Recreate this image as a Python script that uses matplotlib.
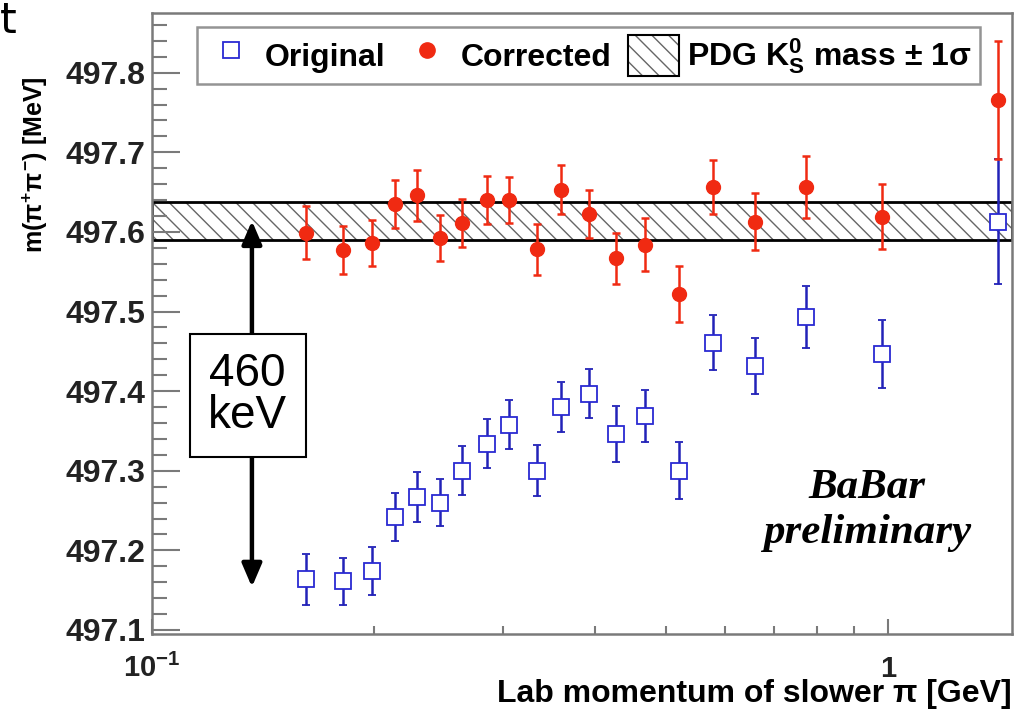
import matplotlib
matplotlib.use("Agg")
import matplotlib.pyplot as plt
from matplotlib.lines import Line2D
from matplotlib.patches import Patch
from matplotlib.ticker import FixedLocator, FixedFormatter, MultipleLocator, FormatStrFormatter

plt.rcParams['font.family'] = ['Liberation Sans', 'DejaVu Sans']
plt.rcParams['mathtext.fontset'] = 'custom'
plt.rcParams['mathtext.rm'] = 'Liberation Sans:bold'
plt.rcParams['mathtext.it'] = 'Liberation Sans:bold'
plt.rcParams['mathtext.bf'] = 'Liberation Sans:bold'
plt.rcParams['hatch.linewidth'] = 1.0

# Lab momentum of the slower pion [GeV] (bin centres)
momentum = [0.162, 0.182, 0.199, 0.214, 0.229, 0.246, 0.264, 0.285, 0.306, 0.334,
            0.360, 0.392, 0.427, 0.468, 0.520, 0.579, 0.660, 0.773, 0.980, 1.412]

# Fitted K0s mass before correction [MeV]
original = [497.164, 497.161, 497.174, 497.242, 497.267, 497.260, 497.300, 497.334, 497.358, 497.300,
            497.380, 497.397, 497.346, 497.369, 497.300, 497.461, 497.432, 497.493, 497.447, 497.613]
original_err = [0.032, 0.030, 0.030, 0.030, 0.031, 0.030, 0.031, 0.031, 0.031, 0.032,
                0.031, 0.031, 0.035, 0.033, 0.036, 0.035, 0.035, 0.039, 0.043, 0.079]

# Fitted K0s mass after correction [MeV]
corrected = [497.599, 497.577, 497.586, 497.635, 497.646, 497.592, 497.611, 497.640, 497.640, 497.578,
             497.653, 497.623, 497.567, 497.584, 497.522, 497.657, 497.613, 497.657, 497.619, 497.766]
corrected_err = [0.033, 0.030, 0.029, 0.030, 0.032, 0.029, 0.030, 0.030, 0.029, 0.032,
                 0.031, 0.030, 0.032, 0.033, 0.035, 0.034, 0.036, 0.039, 0.041, 0.074]

# PDG K0s mass and its uncertainty [MeV]
pdg_mass = 497.614
pdg_sigma = 0.024

# Size of the mass shift [MeV]
shift = 0.460
shift_x = 0.1367

x_range = (0.1, 1.474)
y_range = (497.095, 497.875)

blue = '#2a2ad2'
red = '#f02a12'
gray = '#7a7a7a'

fig = plt.figure(figsize=(10.14, 7.12), dpi=100)
ax = fig.add_axes([0.1499, 0.1096, 0.8481, 0.8721])

ax.set_xscale('log')
ax.set_xlim(*x_range)
ax.set_ylim(*y_range)

# PDG band: grey hatching inside a black frame
ax.axhspan(pdg_mass - pdg_sigma, pdg_mass + pdg_sigma, facecolor='none',
           edgecolor='#666666', hatch='\\\\', lw=0, zorder=1)
ax.axhspan(pdg_mass - pdg_sigma, pdg_mass + pdg_sigma, fill=False,
           edgecolor='black', lw=2.0, zorder=1.5)

ax.errorbar(momentum, original, yerr=original_err, fmt='s', ms=11, mfc='white',
            mec=blue, mew=1.3, ecolor='#2222b8', elinewidth=1.8, capsize=3,
            capthick=1.8, zorder=3)
ax.errorbar(momentum, corrected, yerr=corrected_err, fmt='o', ms=10, mfc=red,
            mec=red, ecolor=red, elinewidth=1.8, capsize=3, capthick=1.8, zorder=4)

# Shift arrow with its label
ax.annotate('', xy=(shift_x, pdg_mass), xytext=(shift_x, pdg_mass - shift),
            arrowprops=dict(arrowstyle='<|-|>,head_length=0.7,head_width=0.3',
                            mutation_scale=20, lw=3.2, color='black',
                            shrinkA=0, shrinkB=0), zorder=5)
ax.text(0.1349, 497.395, '460\nkeV', fontsize=33, ha='center', va='center',
        family='Liberation Sans', linespacing=0.95, zorder=6,
        bbox=dict(boxstyle='square,pad=0.4', facecolor='white', edgecolor='black', lw=1.5))

ax.text(0.9365, 497.266, 'BaBar', fontsize=31, ha='center', va='baseline',
        family='Liberation Serif', style='italic', weight='bold')
ax.text(0.9365, 497.209, 'preliminary', fontsize=31, ha='center', va='baseline',
        family='Liberation Serif', style='italic', weight='bold')

# Axes styling
for s in ax.spines.values():
    s.set_color(gray)
    s.set_linewidth(1.8)

ax.yaxis.set_major_locator(MultipleLocator(0.1))
ax.yaxis.set_minor_locator(MultipleLocator(0.02))
ax.yaxis.set_major_formatter(FormatStrFormatter('%.1f'))
ax.xaxis.set_major_locator(FixedLocator([0.1, 1.0]))
ax.xaxis.set_major_formatter(FixedFormatter([r'10$^{-1}$', '1']))
ax.xaxis.set_minor_locator(FixedLocator([0.2, 0.3, 0.4, 0.5, 0.6, 0.7, 0.8, 0.9]))
ax.xaxis.set_minor_formatter(FixedFormatter([]))

ax.tick_params(axis='y', which='major', direction='in', length=20, width=1.5,
               color=gray, pad=5, labelsize=23, labelcolor='#222222')
ax.tick_params(axis='y', which='minor', direction='in', length=11, width=1.5, color=gray)
ax.tick_params(axis='x', which='major', direction='in', length=11, width=1.5,
               color=gray, pad=31, labelsize=21, labelcolor='#222222')
ax.tick_params(axis='x', which='minor', direction='in', length=6, width=1.5, color=gray)
for lab in ax.get_yticklabels():
    lab.set_fontweight('bold')
for t in ax.xaxis.get_major_ticks():
    t.label1.set_va('baseline')
    t.label1.set_fontweight('bold')

ax.set_ylabel(r'm($\pi^{+}\pi^{-}$) [MeV]', fontsize=18, fontweight='bold', loc='top')
ax.yaxis.set_label_coords(-0.119, 0.8986)
ax.set_xlabel('Lab momentum of slower π [GeV]', fontsize=23, fontweight='bold', loc='right')
ax.xaxis.label.set_va('baseline')
ax.xaxis.set_label_coords(1.0, -0.1095)

# Legend
h_orig = Line2D([], [], marker='s', ls='none', ms=11, mfc='white', mec=blue, mew=1.3)
h_corr = Line2D([], [], marker='o', ls='none', ms=11, mfc=red, mec=red)
h_band = (Patch(facecolor='white', edgecolor='#666666', hatch='\\\\', lw=0),
          Patch(fill=False, edgecolor='black', lw=1.5))
leg = ax.legend([h_orig, h_corr, h_band],
                ['Original', 'Corrected', r'PDG K$^{0}_{S}$ mass ± 1σ'],
                loc='upper left', bbox_to_anchor=(0.0523, 0.9775),
                ncol=3, frameon=True, fancybox=False,
                prop=dict(family='Liberation Sans', weight='bold', size=23),
                handlelength=1.6, handleheight=1.6, handletextpad=0.27,
                columnspacing=0.5, borderpad=0.25, borderaxespad=0)
leg.get_frame().set_edgecolor(gray)
leg.get_frame().set_linewidth(1.8)

fig.text(0.0, 1 - 33 / 712, 't', fontsize=31, va='baseline', ha='left',
         family='DejaVu Sans')

fig.savefig('out.png', dpi=100)
